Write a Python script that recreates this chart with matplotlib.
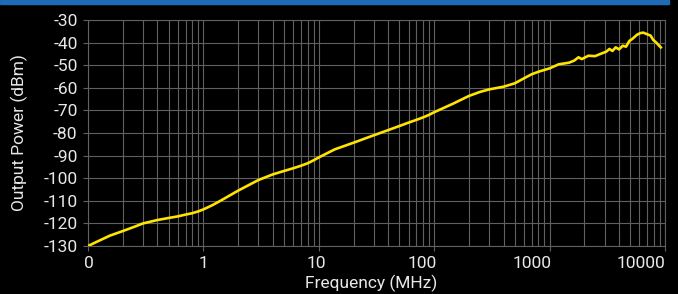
import matplotlib
matplotlib.use("Agg")

import matplotlib.pyplot as plt
import matplotlib.transforms as mtransforms
from matplotlib.patches import Rectangle

plt.rcParams["font.family"] = ["Roboto", "DejaVu Sans"]

# frequency sweep (MHz, dBm)
freq_mhz = [
    0.1, 0.123, 0.155, 0.2, 0.255, 0.3, 0.4, 0.5, 0.6, 0.7, 0.8, 0.9,
    1.0, 1.2, 1.45, 2, 3, 4, 5, 6, 7, 8, 9, 10,
    13.8, 20, 30, 40, 50, 60, 70, 80, 90, 100,
    146, 200, 250, 300, 400, 500, 600, 700, 800, 900, 1000,
    1200, 1470, 1630, 1780, 1900, 2170, 2470, 2700, 3100, 3300,
    3500, 3740, 4000, 4300, 4600, 4900, 5200, 5700, 6100, 6500,
    7000, 7500, 7900, 8400, 8900, 9200,
]
power_dbm = [
    -130, -127.8, -125.4, -123.4, -121.4, -120, -118.5, -117.6, -116.9, -116.1, -115.5, -114.7,
    -113.8, -111.9, -109.6, -105.5, -100.8, -98.3, -96.8, -95.6, -94.5, -93.4, -92.1, -90.8,
    -87.2, -84.3, -81, -78.7, -76.9, -75.4, -74.2, -73.1, -72, -70.8,
    -67.0, -63.6, -61.8, -60.7, -59.5, -58, -55.8, -54, -52.9, -52.1, -51.4,
    -49.6, -48.9, -48, -46.5, -47.3, -45.8, -46, -45.2, -44, -42.8,
    -43.7, -42.1, -43, -41.4, -41.8, -39.3, -38.4, -36.6, -35.8, -35.6,
    -36.3, -36.9, -38.8, -40, -41.4, -42.1,
]

x_ticks = [0.1, 1, 10, 100, 1000, 10000]
x_tick_labels = ["0", "1", "10", "100", "1000", "10000"]
x_label_shift_px = [1, 0, -2, -12, -18, -24]
y_ticks = list(range(-130, -29, 10))

TEXT = "#e8e8e8"
GRID = "#606060"

fig = plt.figure(figsize=(6.78, 2.94), dpi=100, facecolor="black")
fig.patches.append(Rectangle((0, 1 - 4 / 294), 669 / 678, 4 / 294,
                             transform=fig.transFigure, color="#1f6bb6", zorder=0))

ax = fig.add_axes([88 / 678, 48 / 294, 577 / 678, 226 / 294])
ax.set_facecolor("black")

ax.plot(freq_mhz, power_dbm, color="#ffe400", lw=1.9, zorder=3)

ax.set_xscale("log")
ax.set_xlim(0.1, 10000)
ax.set_ylim(-130, -30)

ax.set_xticks(x_ticks)
ax.set_xticklabels(x_tick_labels)
ax.set_yticks(y_ticks)
ax.set_yticklabels([str(v) for v in y_ticks])

ax.grid(True, which="major", color=GRID, lw=0.8)
ax.grid(True, which="minor", axis="x", color=GRID, lw=0.8)
ax.tick_params(which="major", colors=GRID, labelcolor=TEXT, length=3.5, width=0.8,
               labelsize=12.5, pad=4)
ax.tick_params(which="minor", length=0)
for side in ax.spines.values():
    side.set_color(GRID)
    side.set_linewidth(0.8)

for label, dx in zip(ax.get_xticklabels(), x_label_shift_px):
    shift = mtransforms.ScaledTranslation(dx / 100, 0, fig.dpi_scale_trans)
    label.set_transform(label.get_transform() + shift)

ax.set_xlabel("Frequency (MHz)", color=TEXT, fontsize=12.5)
ax.xaxis.set_label_coords((371.5 - 88) / 577, -0.125)
ax.set_ylabel("Output Power (dBm)", color=TEXT, fontsize=12.5)
ax.yaxis.set_label_coords(-(88 - 28) / 577, 0.5)

fig.savefig("out.png", dpi=100, facecolor="black")
plt.close(fig)
